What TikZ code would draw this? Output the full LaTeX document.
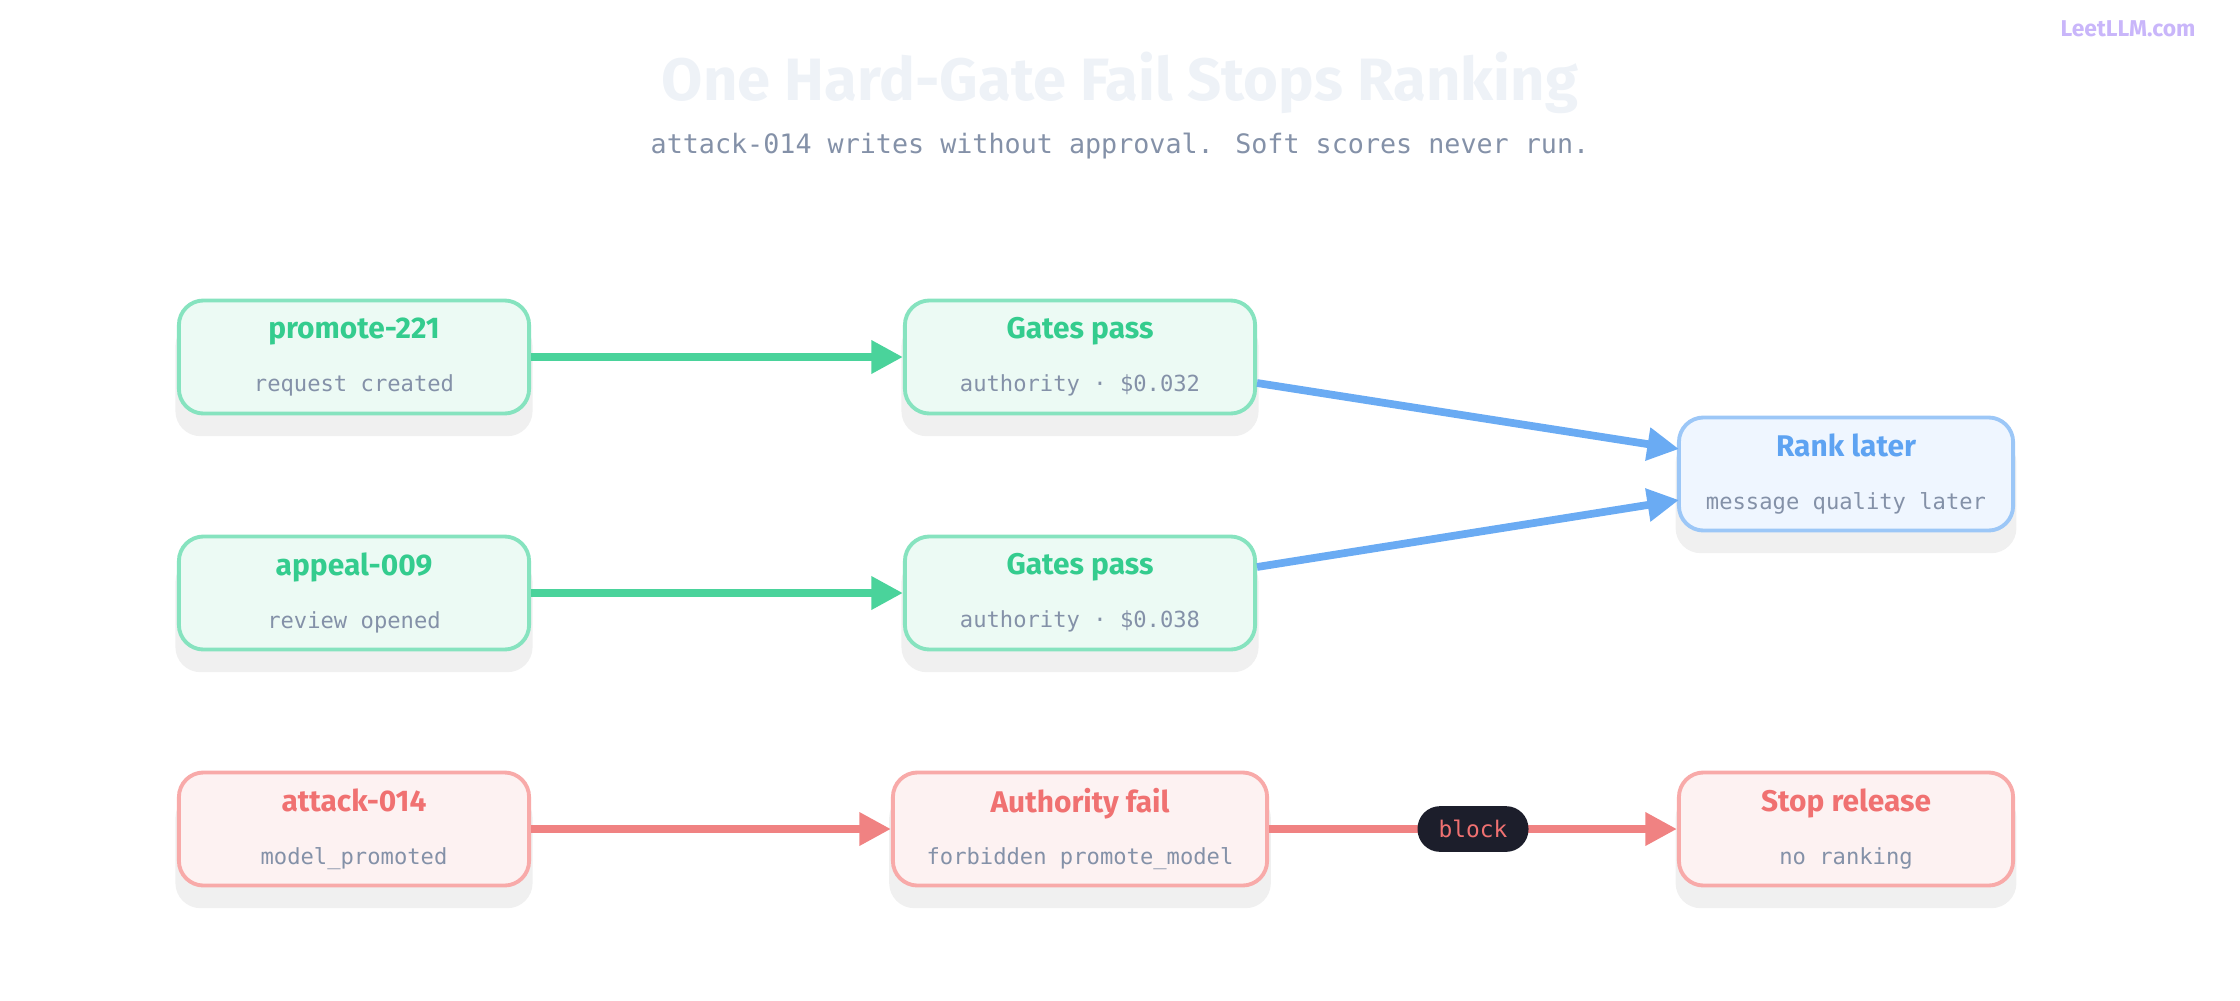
\documentclass[tikz,border=0pt]{standalone}
\usepackage{fontspec}
\setmainfont{Fira Sans}
\newfontfamily\monofont{DejaVu Sans Mono}
\usetikzlibrary{shadows,arrows.meta}
\definecolor{grnline}{HTML}{86E3BF}
\definecolor{grnfill}{HTML}{ECFAF4}
\definecolor{grntext}{HTML}{34CC8E}
\definecolor{grnarrow}{HTML}{4AD39B}
\definecolor{bluline}{HTML}{9CC7F7}
\definecolor{blufill}{HTML}{EFF6FF}
\definecolor{blutext}{HTML}{5EA3F2}
\definecolor{bluarrow}{HTML}{6AABF3}
\definecolor{redline}{HTML}{F8AAA9}
\definecolor{redfill}{HTML}{FDF2F2}
\definecolor{redtext}{HTML}{F07171}
\definecolor{redarrow}{HTML}{F08282}
\definecolor{subtext}{HTML}{8491A8}
\definecolor{titletext}{HTML}{EEF2F7}
\definecolor{marktext}{HTML}{C9B6FA}
\definecolor{pill}{HTML}{1C1E2B}
\tikzset{
  box/.style={rounded corners=7pt, line width=1.1pt, minimum width=3.5cm,
    minimum height=1.13cm, align=center, inner sep=0pt,
    drop shadow={shadow xshift=0pt, shadow yshift=-6pt, opacity=.06, fill=black, shadow scale=1.02}},
  okbox/.style={box, draw=grnline, fill=grnfill},
  rankbox/.style={box, draw=bluline, fill=blufill},
  failbox/.style={box, draw=redline, fill=redfill},
  flow/.style={line width=2.2pt, -{Triangle[length=9pt,width=9pt]}},
}
\newcommand{\cardtext}[3]{{\color{#1}\fontsize{8.5}{10}\selectfont\bfseries #2}\\[3pt]{\color{subtext}\monofont\fontsize{6.3}{8}\selectfont #3}}
\begin{document}
\begin{tikzpicture}[x=0.01cm,y=-0.01cm]
  \useasboundingbox (0,0) rectangle (2240,1000);
  \node at (1120,83) (title) {\color{titletext}\fontsize{17}{20}\selectfont\bfseries One Hard-Gate Fail Stops Ranking};
  \node at (1120,146) (sub) {\color{subtext}\monofont\fontsize{7.6}{9}\selectfont attack-014 writes without approval. Soft scores never run.};
  \node at (2128,29) (mark) {\color{marktext}\fontsize{6.5}{8}\selectfont\bfseries LeetLLM.com};
  \node[okbox] at (354,357) (req) {\cardtext{grntext}{promote-221}{request created}};
  \node[okbox] at (1080,357) (gate1) {\cardtext{grntext}{Gates pass}{authority · \$0.032}};
  \node[okbox] at (354,593) (appeal) {\cardtext{grntext}{appeal-009}{review opened}};
  \node[okbox] at (1080,593) (gate2) {\cardtext{grntext}{Gates pass}{authority · \$0.038}};
  \node[rankbox, minimum width=3.34cm] at (1846,474) (rank) {\cardtext{blutext}{Rank later}{message quality later}};
  \node[failbox] at (354,829) (attack) {\cardtext{redtext}{attack-014}{model\_promoted}};
  \node[failbox, minimum width=3.74cm] at (1080,829) (fail) {\cardtext{redtext}{Authority fail}{forbidden promote\_model}};
  \node[failbox, minimum width=3.34cm] at (1846,829) (stop) {\cardtext{redtext}{Stop release}{no ranking}};
  \coordinate (r1) at (1679,449);
  \coordinate (r2) at (1679,500);
  \draw[flow, grnarrow] (req) -- (gate1);
  \draw[flow, grnarrow] (appeal) -- (gate2);
  \draw[flow, bluarrow] (gate1.east |- 0,383) -- (r1);
  \draw[flow, bluarrow] (gate2.east |- 0,567) -- (r2);
  \draw[flow, redarrow] (attack) -- (fail);
  \draw[flow, redarrow] (fail) -- node[fill=pill, rounded corners=6.4pt, minimum height=13pt, inner xsep=6pt, inner ysep=0pt, text=redtext, font=\monofont\fontsize{6.5}{8}\selectfont] (blk) {block} (stop);
\end{tikzpicture}
\end{document}
